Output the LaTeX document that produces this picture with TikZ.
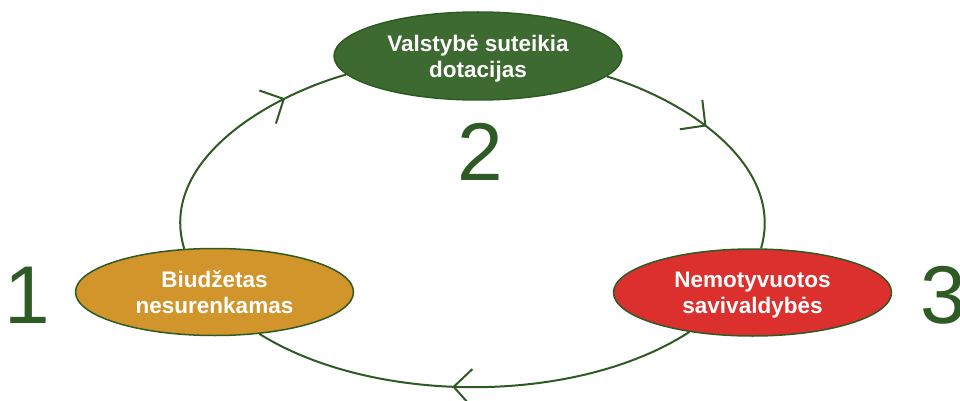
\documentclass[tikz,border=0pt]{standalone}
\usepackage{fontspec}
\setmainfont{Liberation Sans}
\usetikzlibrary{arrows.meta,decorations.markings,shapes.geometric}
\definecolor{stategreen}{HTML}{3C6A30}
\definecolor{budgetorange}{HTML}{D2952B}
\definecolor{munired}{HTML}{DB302E}
\definecolor{darkline}{HTML}{2E5A24}
\tikzset{
  stage/.style={ellipse, draw=darkline, line width=1.5pt, inner sep=0pt,
    align=center, text=white, text depth=0pt,
    font=\fontsize{22.5}{26}\selectfont\bfseries},
  number/.style={anchor=base, text=darkline, inner sep=0pt,
    font=\fontsize{82}{82}\selectfont},
  flow/.style={draw=darkline, line width=2pt, postaction={decorate},
    decoration={markings, mark=at position #1 with
      {\arrow[darkline, line width=2pt]{Straight Barb[length=18pt,width=37pt]}}}}
}
\begin{document}
\begin{tikzpicture}[x=1pt,y=1pt]
  \useasboundingbox (0,0) rectangle (960,-401);
  \node[stage, fill=stategreen, minimum width=288pt, minimum height=88pt]
    (val) at (478,-56) {Valstybė suteikia\\dotacijas};
  \node[stage, fill=budgetorange, minimum width=278pt, minimum height=87pt]
    (bud) at (214.5,-292) {Biudžetas\\nesurenkamas};
  \node[stage, fill=munired, minimum width=278pt, minimum height=87pt]
    (sav) at (752.5,-292.5) {Nemotyvuotos\\savivaldybės};
  \node[number] (n1) at (27,-323) {1};
  \node[number] (n2) at (480,-180) {2};
  \node[number] (n3) at (943,-323) {3};
  \begin{scope}[-]
    \draw[flow=0.75] (bud.125) to[out=107,in=196,looseness=0.95] (val.188);
    \draw[flow=0.44] (val.351) to[out=-17,in=74,looseness=0.95] (sav.79);
    \draw[flow=0.55] (sav.212) to[out=213,in=328,looseness=0.8] (bud.317);
  \end{scope}
\end{tikzpicture}
\end{document}
